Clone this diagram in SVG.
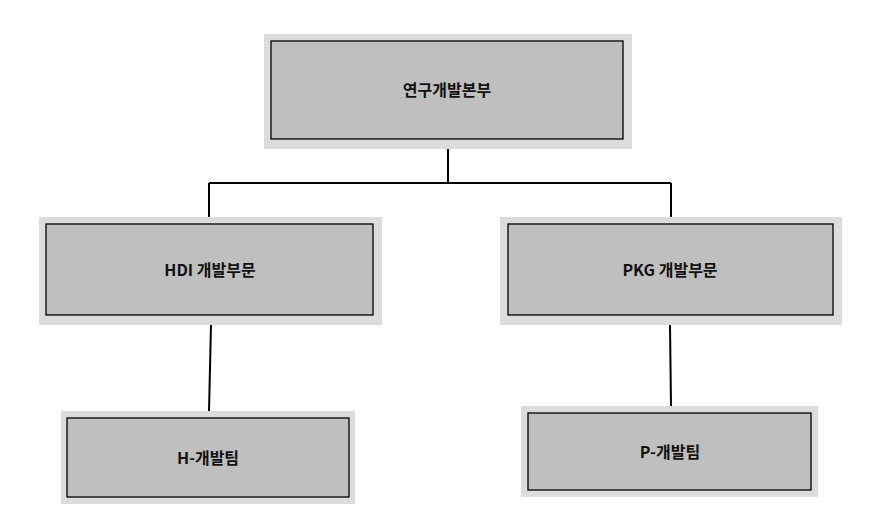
<svg xmlns="http://www.w3.org/2000/svg" width="882" height="531" viewBox="0 0 882 531">
<style>
.o{fill:#dcdcdc}
.i{fill:#bfbfbf;stroke:#000;stroke-width:1.3}
.t{font-family:"Noto Sans CJK KR","Noto Sans",sans-serif;font-weight:bold;font-size:16px;text-anchor:middle;fill:#111}
.c{stroke:#000;stroke-width:2;fill:none}
</style>
<rect width="882" height="531" fill="#fff"/>
<g id="connectors">
<path class="c" d="M448 149V183M209 183H671M209 183V217M671 183V217M211 325L209 411M670 325L671 406"/>
</g>
<g id="n-top"><rect class="o" x="264" y="34" width="368" height="115"/><rect class="i" x="271" y="41" width="352" height="98"/><text class="t" x="447" y="96">연구개발본부</text></g>
<g id="n-hdi"><rect class="o" x="39" y="217" width="343" height="108"/><rect class="i" x="46" y="224" width="327" height="91"/><text class="t" x="210" y="276">HDI 개발부문</text></g>
<g id="n-pkg"><rect class="o" x="500" y="217" width="342" height="108"/><rect class="i" x="508" y="224" width="325" height="91"/><text class="t" x="670" y="276">PKG 개발부문</text></g>
<g id="n-h"><rect class="o" x="61" y="411" width="294" height="93"/><rect class="i" x="67" y="418" width="282" height="79"/><text class="t" x="208" y="464">H-개발팀</text></g>
<g id="n-p"><rect class="o" x="521" y="406" width="297" height="91"/><rect class="i" x="528" y="413" width="283" height="77"/><text class="t" x="670" y="458">P-개발팀</text></g>
</svg>
